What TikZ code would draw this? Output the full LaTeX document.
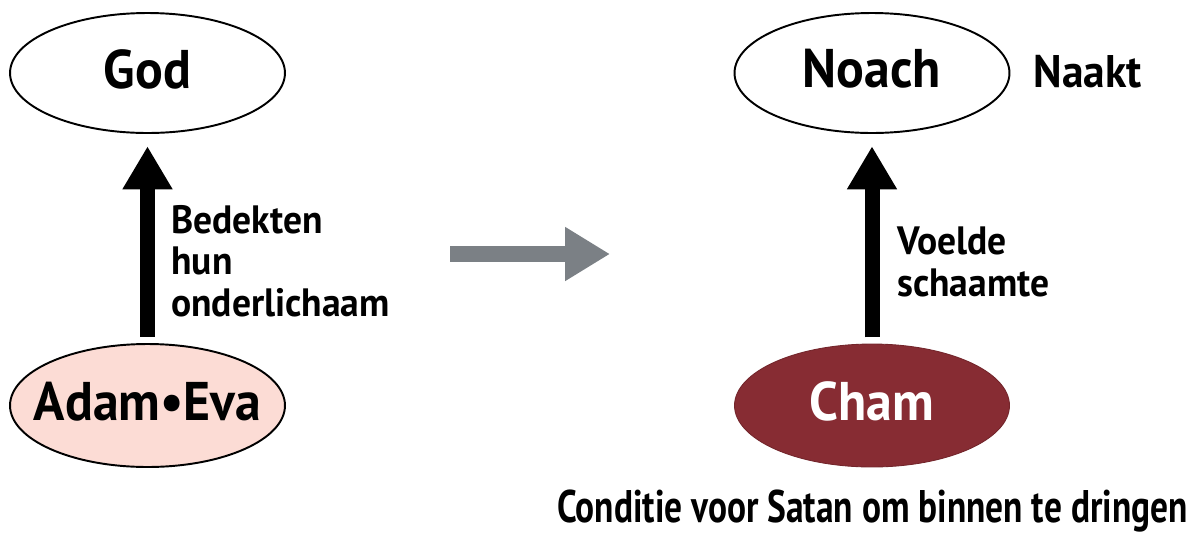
\documentclass[tikz,border=0pt]{standalone}
\usepackage{fontspec}
\setmainfont{PT Sans}[FakeStretch=0.95]
\newfontfamily\narrowfont{PT Sans}[FakeStretch=0.775]
\usetikzlibrary{arrows.meta,positioning,shapes.geometric}
\definecolor{mPink}{RGB}{252,220,213}
\definecolor{mMaroon}{RGB}{135,44,51}
\definecolor{mGray}{RGB}{123,128,133}

\begin{document}
\begin{tikzpicture}[x=0.02cm, y=-0.02cm,
    oval/.style={ellipse, draw, line width=1.1pt, minimum width=5.5cm,
      minimum height=2.4cm, inner xsep=-12pt, inner ysep=0pt, text depth=5pt,
      font=\fontsize{31}{31}\selectfont\bfseries},
    uparrow/.style={-{Triangle[length=0.86cm, width=0.94cm]}, line width=0.3cm,
      shorten <=3.5pt, shorten >=7pt},
    lbl/.style={inner sep=0pt, align=left, font=\fontsize{22.5}{23.5}\selectfont\bfseries}]
    \useasboundingbox (0,0) rectangle (1201,535);
    % Left: God and Adam/Eva
    \node[oval] (god) at (147.5,73) {God};
    \node[oval, fill=mPink, minimum height=2.46cm] (adameva) at (147.5,405.5) {Adam\textbullet Eva};
    \draw[uparrow] (adameva.north) -- (god.south);
    \node[lbl, anchor=west] (cover) at (171,261) {Bedekten\\hun\\onderlichaam};
    % Gray arrow in between
    \coordinate (gfrom) at (450,254);
    \coordinate (gto) at (610,254);
    \draw[-{Triangle[length=0.9cm, width=1.02cm]}, mGray, line width=0.32cm] (gfrom) -- (gto);
    % Right: Noah and Ham
    \node[oval] (noach) at (872,73) {Noach};
    \node[right=13pt of noach, inner sep=0pt, yshift=1pt,
      font=\fontsize{26}{26}\selectfont\bfseries] (naakt) {Naakt};
    \node[oval, draw=mMaroon!85!black, line width=0.5pt, fill=mMaroon, text=white,
      minimum height=2.46cm] (cham) at (872,405.5) {Cham};
    \draw[uparrow] (cham.north) -- (noach.south);
    \node[lbl, anchor=west] (shame) at (897,262) {Voelde\\schaamte};
    % Caption
    \node[anchor=base, inner sep=0pt, font=\fontsize{26}{26}\narrowfont\bfseries] (cond) at (872.5,522)
      {Conditie voor Satan om binnen te dringen};
\end{tikzpicture}
\end{document}
